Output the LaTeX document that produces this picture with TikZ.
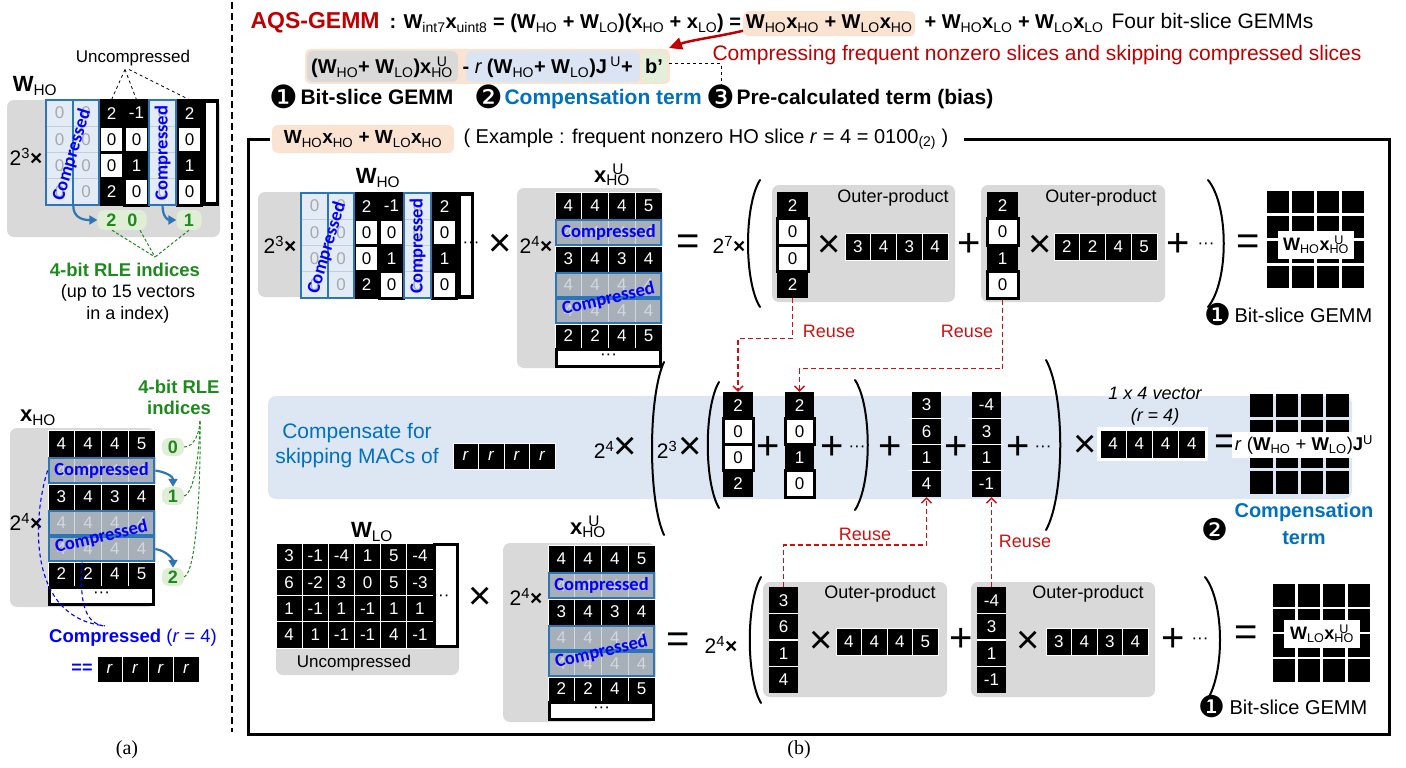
\documentclass[tikz,border=0pt]{standalone}
\usepackage{fontspec}
\setmainfont{Liberation Sans}
\newfontfamily\carl{Carlito}
\newfontfamily\dvs{DejaVu Sans}
\newfontfamily\tms{Liberation Serif}
\usetikzlibrary{arrows.meta}

\definecolor{boxgray}{HTML}{D9D9D9}
\definecolor{peach}{HTML}{FBE3D2}
\definecolor{bandblue}{HTML}{DDE7F3}
\definecolor{termblue}{HTML}{DAE4F2}
\definecolor{pillgreen}{HTML}{E0EED6}
\definecolor{rlegreen}{HTML}{1E8A1E}
\definecolor{cmpblue}{HTML}{2E75B6}
\definecolor{cmpgray}{HTML}{A7AFB9}
\definecolor{cmptxt}{HTML}{D3D8DE}
\definecolor{cmplight}{HTML}{E2EBF6}
\definecolor{cmpline}{HTML}{C5CDD6}
\definecolor{zerogray}{HTML}{A9A9A9}
\definecolor{darkred}{HTML}{C00000}
\definecolor{compblue}{HTML}{0070C0}
\definecolor{reusered}{HTML}{D01010}
\definecolor{mint}{HTML}{E2EFD9}

\newcommand{\fsz}[1]{\fontsize{#1}{#1}\selectfont}
% superscript stacked over a subscript
\newcommand{\SupSub}[2]{\setbox0=\hbox{\textsubscript{#2}}\setbox2=\hbox{\textsuperscript{#1}}\rlap{\hbox to \wd0{\hss\box2\hss}}\box0}
\newcommand{\bW}[1]{\textbf{W}\textsubscript{\mdseries #1}}
\newcommand{\bx}[1]{\textbf{x}\textsubscript{\mdseries #1}}
\newcommand{\bxU}[1]{\textbf{x}\SupSub{\mdseries U}{\mdseries #1}}

% column / row of cells: name, x, y, cell width, cell height, list of style/text
\newcommand{\vcol}[6]{\foreach \st/\tx [count=\i] in {#6}{\node[\st, minimum width=#4, minimum height=#5] (#1-\i) at (#2,{#3+(\i-0.5)*#5}) {\tx};}}
\newcommand{\hrow}[6]{\foreach \st/\tx [count=\i] in {#6}{\node[\st, minimum width=#4, minimum height=#5] (#1-\i) at ({#2+(\i-0.5)*#4},#3) {\tx};}}

% 4x4 result grid: x, y, width, height
\newcommand{\resmat}[4]{\foreach \r in {0,1,2,3}{\foreach \c in {0,1,2,3}{\fill ({#1+\c*#3/4+1.3},{#2+\r*#4/4+1.3}) rectangle ++({#3/4-2.6},{#4/4-2.6});}}}

% big parentheses: x of ends, y top, y bottom, bulge
\newcommand{\parL}[4]{\draw[paren] (#1,#2) .. controls ({#1-#4},{#2+0.2*(#3-#2)}) and ({#1-#4},{#2+0.8*(#3-#2)}) .. (#1,#3);}
\newcommand{\parR}[4]{\draw[paren] (#1,#2) .. controls ({#1+#4},{#2+0.2*(#3-#2)}) and ({#1+#4},{#2+0.8*(#3-#2)}) .. (#1,#3);}

% HO weight slice with compressed columns
\newcommand{\WHOmat}[3]{%
\begin{scope}[shift={(#2,#3)}]
 \fill[black] (53,0) rectangle (172,105);
 \vcol{#1a}{13.5}{0}{26}{26.25}{cL/0,cL/0,cL/0,cL/0}
 \vcol{#1b}{40}{0}{25}{26.25}{cL/0,cL/0,cL/0,cL/0}
 \vcol{#1c}{65.5}{0}{24}{26.25}{cB/2,cW/0,cW/0,cB/2}
 \vcol{#1d}{90.5}{0}{24}{26.25}{cB/-1,cW/0,cB/1,cW/0}
 \vcol{#1e}{116.5}{0}{26}{26.25}{cL/0,cL/0,cL/0,cL/0}
 \vcol{#1f}{143.5}{0}{24}{26.25}{cB/2,cW/0,cB/1,cW/0}
 \node[cW, minimum width=13, minimum height=102] (#1g) at (164.5,52.5) {};
 \draw[line width=2pt] (53,0) rectangle (172,105);
 \draw[cmpbox] (0,0) rectangle (27,105);
 \draw[cmpbox] (27,0) rectangle (53,105);
 \draw[cmpbox] (103,0) rectangle (130,105);
 \node[cmplbl, rotate=73] (#1t1) at (26,55) {Compressed};
 \node[cmplbl, rotate=90] (#1t2) at (116.5,53) {Compressed};
\end{scope}}

% HO activation slice with compressed rows
\newcommand{\XHOmat}[3]{%
\begin{scope}[shift={(#2,#3)}]
 \hrow{#1a}{0}{13.5}{26.75}{27}{cBs/4,cBs/4,cBs/4,cBs/5}
 \hrow{#1b}{0}{40.5}{26.75}{27}{cG/4,cG/4,cG/4,cG/4}
 \hrow{#1c}{0}{67}{26.75}{26}{cBs/3,cBs/4,cBs/3,cBs/4}
 \hrow{#1d}{0}{93}{26.75}{26}{cG/4,cG/4,cG/4,cG/4}
 \hrow{#1e}{0}{119}{26.75}{26}{cG/4,cG/4,cG/4,cG/4}
 \hrow{#1f}{0}{144}{26.75}{24}{cBs/2,cBs/2,cBs/4,cBs/5}
 \node[cW, minimum width=104, minimum height=17] (#1g) at (53.5,166) {\raisebox{3pt}{···}};
 \draw[cmpbox] (1,28) rectangle (106,53);
 \draw[cmpbox] (1,81) rectangle (106,105);
 \draw[cmpbox] (1,107) rectangle (106,131);
 \node[cmplbl] (#1t1) at (53.5,40.5) {Compressed};
 \node[cmplbl, rotate=13] (#1t2) at (53.5,107) {Compressed};
\end{scope}}

\begin{document}
\begin{tikzpicture}[x=1pt,y=-1pt,
  cB/.style={rectangle, fill=black, text=white, inner sep=0pt, font=\fsz{17}},
  cBs/.style={cB, draw=white, line width=0.8pt},
  cW/.style={rectangle, fill=white, draw=black, line width=3pt, text=black, inner sep=0pt, font=\fsz{17}},
  cG/.style={rectangle, fill=cmpgray, draw=cmptxt, line width=0.8pt, text=cmptxt, inner sep=0pt, font=\fsz{17}},
  cL/.style={rectangle, fill=cmplight, draw=cmpline, line width=0.6pt, text=zerogray, inner sep=0pt, font=\fsz{17}},
  cmpbox/.style={draw=cmpblue, line width=2.2pt},
  cmplbl/.style={text=blue, font=\carl\bfseries\fsz{18.5}, inner sep=0pt},
  graybox/.style={fill=boxgray, rounded corners=7pt},
  sym/.style={inner sep=0pt, font=\fsz{40}},
  paren/.style={line width=2pt, line cap=round},
  reuse/.style={draw=reusered, line width=1.4pt, dash pattern=on 5pt off 3pt, -{Straight Barb[length=5pt,width=10pt]}},
  reuselbl/.style={text=reusered, font=\fsz{18}},
  pill/.style={fill=pillgreen, rounded corners=7pt, text=rlegreen, font=\bfseries\fsz{18}, inner sep=0pt},
  rledash/.style={draw=rlegreen, line width=1pt, dash pattern=on 3pt off 2pt},
  rlelbl/.style={text=rlegreen, font=\bfseries\fsz{18.5}},
  bluearrow/.style={draw=cmpblue, line width=2.2pt, -{Triangle[length=8pt,width=9pt]}},
  blued/.style={draw=blue, line width=1.1pt, dash pattern=on 4pt off 3pt},
  opl/.style={font=\fsz{18}},
  pw/.style={font=\fsz{21}},
  circnum/.style={font=\dvs\fsz{32}, inner sep=0pt},
]
\useasboundingbox (0,0) rectangle (1406,768);

% ================= panel (a) =================
\draw[line width=1.8pt, dash pattern=on 7pt off 4pt] (232,2) -- (232,732);

\node[font=\fsz{17}] (uncA) at (133,58) {Uncompressed};
\node[font=\fsz{22}] (whoA) at (35,86) {\bW{HO}};
\fill[graybox] (7,100) rectangle (220,237);
\node[pw] (p3A) at (26,157) {2\textsuperscript{3}\textbf{×}};
\WHOmat{wa}{46}{100}
\draw[dashed, line width=0.8pt] ([xshift=-8pt]uncA.south) -- (wac-1.north);
\draw[dashed, line width=0.8pt] ([xshift=-8pt]uncA.south) -- (wad-1.north);
\draw[dashed, line width=0.8pt] ([xshift=-4pt]uncA.south) -- (waf-1.north);

\node[pill, minimum width=49, minimum height=20] (pillA) at (122,220) {2\hspace{11pt}0};
\node[pill, minimum width=25, minimum height=20] (pillB) at (189,220) {1};
\draw[bluearrow] (wab-4.south west) .. controls +(0,14) and +(-12,0) .. (pillA.west);
\draw[bluearrow] (wae-4.south) .. controls +(0,12) and +(-8,0) .. (pillB.west);

\node[rlelbl] (rleA) at (125,270) {4-bit RLE indices};
\coordinate (rleAtop) at (155,257);
\draw[rledash] ([xshift=-10pt]pillA.south) -- (rleAtop);
\draw[rledash] ([xshift=18pt]pillA.south) -- (rleAtop);
\draw[rledash] (pillB.south) -- (rleAtop);
\node[font=\fsz{18}] (uptoA) at (128,293) {(up to 15 vectors};
\node[font=\fsz{18}] (uptoB) at (128,315) {in a index)};

\node[rlelbl] (rleB1) at (179,387) {4-bit RLE};
\node[rlelbl] (rleB2) at (179,408) {indices};
\coordinate (rleBfoot) at (200,420);
\node[font=\fsz{22}] (xhoA) at (38,418) {\bx{HO}};
\fill[graybox] (10,428) rectangle (155,607);
\node[pw] (p4A) at (26,522) {2\textsuperscript{4}\textbf{×}};
\XHOmat{xa}{48}{430}
\node[pill, minimum width=22, minimum height=18] (q0) at (173,447) {0};
\node[pill, minimum width=22, minimum height=18] (q1) at (173,496) {1};
\node[pill, minimum width=22, minimum height=18] (q2) at (173,577) {2};
\draw[bluearrow] (xab-4.east) .. controls +(12,2) and +(0,-10) .. (q1.north);
\draw[bluearrow] (xae-4.east) .. controls +(12,2) and +(0,-8) .. (q2.north);
\draw[rledash] (q0.east) .. controls +(10,0) and +(0,12) .. (rleBfoot);
\draw[rledash] (q1.east) .. controls +(12,-4) and +(0,20) .. (rleBfoot);
\draw[rledash] (q2.east) .. controls +(14,-6) and +(1,40) .. (rleBfoot);

\node[text=blue, font=\fsz{18.5}] (cmpA) at (133,638) {\textbf{Compressed} (\textit{r} = 4)};
\draw[blued] (xab-1.west) .. controls (32,520) and (28,618) .. ([xshift=-28pt]cmpA.north);
\draw[blued] ([xshift=-6pt]xae-2.south) .. controls (80,595) and (82,622) .. ([xshift=-30pt]cmpA.north);
\node[text=blue, font=\bfseries\fsz{18}] (eqeq) at (82,669) {==};
\hrow{rA}{97}{669}{25.5}{26}{cBs/\textit{r},cBs/\textit{r},cBs/\textit{r},cBs/\textit{r}}
\node[font=\tms\fsz{20}] (capA) at (127,750) {(a)};

% ================= panel (b): header =================
\node[anchor=base west, text=darkred, font=\bfseries\fsz{23}] (aqs) at (247,29) {AQS-GEMM};
\node[anchor=base west, font=\bfseries\fsz{20}] (eqA) at (386,29) {: \bW{int7}\bx{uint8} = (\bW{HO} + \bW{LO})(\bx{HO} + \bx{LO}) =};
\node[anchor=base west, fill=peach, rounded corners=6pt, inner ysep=4pt, inner xsep=0pt, minimum width=172, font=\bfseries\fsz{20}] (pk) at (743,29) {\bW{HO}\bx{HO} + \bW{LO}\bx{HO}};
\node[anchor=base west, font=\bfseries\fsz{20}] (eqB) at (921,29) {+ \bW{HO}\bx{LO} + \bW{LO}\bx{LO}};
\node[anchor=base east, font=\fsz{21}] (four) at (1317,29) {Four bit-slice GEMMs};

\fill[peach, rounded corners=6pt] (305,49) rectangle (670,84);
\fill[boxgray, rounded corners=6pt] (307,51) rectangle (458,82);
\fill[termblue, rounded corners=6pt] (466,51) rectangle (640,82);
\fill[mint, rounded corners=5pt] (642,52) rectangle (667,82);
\node[anchor=base, font=\bfseries\fsz{20}] (f2a) at (382,74) {(\bW{HO}+ \bW{LO})\bxU{HO}};
\node[anchor=base west, font=\bfseries\fsz{20}] (f2b) at (459,74) {- {\mdseries\itshape r} (\bW{HO}+ \bW{LO})\textbf{J}\,\textsuperscript{\mdseries U}+};
\node[anchor=base, font=\bfseries\fsz{20}] (f2c) at (654,74) {b'};

\node[anchor=base west, text=darkred, font=\fsz{21}] (cmpr) at (709,60) {Compressing frequent nonzero slices and skipping compressed slices};
\coordinate (cmptip) at (669,48);
\draw[darkred, line width=2.5pt, -{Triangle[length=13pt,width=12pt]}] ([yshift=-7pt]pk.west) .. controls +(-25,6) and +(22,-8) .. (cmptip);

\node[circnum] (c1) at (284,97) {❶};
\node[anchor=base west, font=\bfseries\fsz{21}] (bsg) at (297,104) {Bit-slice GEMM};
\node[circnum] (c2) at (489,97) {❷};
\node[anchor=base west, text=compblue, font=\bfseries\fsz{21}] (cterm) at (501,104) {Compensation term};
\node[circnum] (c3) at (721,97) {❸};
\node[anchor=base west, font=\bfseries\fsz{21}] (pre) at (733,104) {Pre-calculated term (bias)};
\draw[dashed, line width=0.8pt] ([xshift=3pt,yshift=3pt]f2c.east) -| (c3.north);

% ================= panel (b): frame =================
\node[fill=peach, rounded corners=6pt, minimum width=182, minimum height=28, inner sep=0pt, font=\bfseries\fsz{19}] (lbl) at (363,139) {\bW{HO}\bx{HO} + \bW{LO}\bx{HO}};
\node[anchor=west, font=\fsz{20}] (ex) at (460,139) {( Example : frequent nonzero HO slice \textit{r} = 4 = 0100\textsubscript{(2)} )};
\draw[line width=3pt] ([xshift=-2pt]lbl.west) -- (248,139) -- (248,734) -- (1389,734) -- (1389,139) -- ([xshift=12pt]ex.east);

% compensation band
\fill[bandblue, rounded corners=8pt] (268,396) rectangle (1352,499);

% ---- top row: W_HO x x_HO^U
\fill[graybox] (258,192) rectangle (355,297);
\node[font=\fsz{22}] (whoB) at (378,178) {\bW{HO}};
\node[pw] (p3B) at (280,245) {2\textsuperscript{3}\textbf{×}};
\WHOmat{wb}{301}{193}
\node[font=\fsz{17}] (wbdots) at (471,245) {···};
\node[sym] (mulB) at (500,245) {×};
\fill[graybox] (517,188) rectangle (662,368);
\node[pw] (p4B) at (536,245) {2\textsuperscript{4}\textbf{×}};
\node[font=\fsz{22}] (xuB) at (612,175) {\bxU{HO}};
\XHOmat{xb}{555}{192}
\node[sym] (eqB1) at (688,245) {=};
\node[pw] (p7B) at (729,245) {2\textsuperscript{7}\textbf{×}};
\parL{760}{180}{307}{16}
\fill[graybox] (772,185) rectangle (955,302);
\fill[graybox] (981,185) rectangle (1165,302);
\vcol{t1}{792.5}{192}{31}{26.5}{cB/2,cW/0,cW/0,cB/2}
\node[opl] (op1) at (893,198) {Outer-product};
\node[sym] (tx1) at (829,246) {×};
\hrow{t1r}{845}{246.5}{25.75}{27}{cBs/3,cBs/4,cBs/3,cBs/4}
\node[sym] (tp1) at (969,245) {+};
\vcol{t2}{1002.5}{192}{31}{26.5}{cB/2,cW/0,cB/1,cW/0}
\node[opl] (op2) at (1101,198) {Outer-product};
\node[sym] (tx2) at (1040,246) {×};
\hrow{t2r}{1054}{246.5}{25.75}{27}{cBs/2,cBs/2,cBs/4,cBs/5}
\node[sym] (tp2) at (1178,245) {+};
\node[font=\fsz{17}] (td2) at (1206,246) {···};
\parR{1208}{180}{307}{21}
\node[sym] (eqB2) at (1248,245) {=};
\resmat{1266}{190}{99}{99}
\node[fill=white, minimum width=76, minimum height=28, inner sep=0pt, font=\bfseries\fsz{18}] (r1l) at (1316,245) {\bW{HO}\bxU{HO}};
\node[circnum, font=\dvs\fsz{30}] (c1b) at (1218,315) {❶};
\node[anchor=west, font=\fsz{20}] (bs1) at (1231,315) {Bit-slice GEMM};

% ---- middle row: compensation
\node[align=center, text=compblue, font=\fontsize{21}{25}\selectfont] (compL) at (357,446) {Compensate for\\skipping MACs of};
\hrow{rB}{453}{456}{25.5}{26}{cBs/\textit{r},cBs/\textit{r},cBs/\textit{r},cBs/\textit{r}}
\node[pw] (p4M) at (604,450) {2\textsuperscript{4}};
\node[sym] (xM1) at (625,448) {×};
\parL{664}{362}{535}{16}
\node[pw] (p3M) at (667,450) {2\textsuperscript{3}};
\node[sym] (xM2) at (690,448) {×};
\parL{719}{382}{508}{15}
\vcol{m1}{738}{392}{30}{26.25}{cB/2,cW/0,cW/0,cB/2}
\node[sym] (mp1) at (768,448) {+};
\vcol{m2}{799.5}{392}{29}{26.25}{cB/2,cW/0,cB/1,cW/0}
\node[sym] (mp2) at (832,448) {+};
\node[font=\fsz{17}] (md1) at (857,449) {···};
\parR{855}{380}{510}{17}
\node[sym] (mp3) at (890,448) {+};
\vcol{m3}{926.5}{392}{29}{26.25}{cB/3,cB/6,cB/1,cB/4}
\node[sym] (mp4) at (956,448) {+};
\vcol{m4}{986.5}{392}{29}{26.25}{cB/-4,cB/3,cB/1,cB/-1}
\foreach \k in {1,2,3}{
  \draw[white, line width=1.2pt] (909,{392+\k*26.25}) -- (944,{392+\k*26.25});
  \draw[white, line width=1.2pt] (969,{392+\k*26.25}) -- (1004,{392+\k*26.25});}
\node[sym] (mp5) at (1018,448) {+};
\node[font=\fsz{17}] (md2) at (1043,449) {···};
\parR{1046}{360}{530}{19}
\node[sym] (xM3) at (1085,446) {×};
\node[font=\itshape\fsz{18}] (vecl1) at (1155,393) {1 x 4 vector};
\node[font=\itshape\fsz{18}] (vecl2) at (1155,417) {(r = 4)};
\fill[white] (1097,427) rectangle (1208,461);
\hrow{m5}{1100}{444}{26.25}{28}{cBs/4,cBs/4,cBs/4,cBs/4}
\node[sym] (eqM) at (1226,445) {=};
\resmat{1249}{393}{101}{102}
\node[fill=white, inner sep=3pt, font=\fsz{18.5}] (r2l) at (1304,445) {\textit{r} (\bW{HO} + \bW{LO})\textbf{J}\textsuperscript{U}};
\node[circnum, font=\dvs\fsz{30}] (c2b) at (1215,530) {❷};
\node[text=compblue, font=\bfseries\fsz{20}] (cmpt1) at (1304,512) {Compensation};
\node[text=compblue, font=\bfseries\fsz{20}] (cmpt2) at (1304,538) {term};

% ---- bottom row: W_LO x x_HO^U
\node[font=\fsz{22}] (wloL) at (372,532) {\bW{LO}};
\fill[graybox] (276,615) rectangle (459,675);
\begin{scope}[shift={(276,543)}]
 \hrow{wlo1}{0}{13.1}{26.17}{26.25}{cBs/3,cBs/-1,cBs/-4,cBs/1,cBs/5,cBs/-4}
 \hrow{wlo2}{0}{39.4}{26.17}{26.25}{cBs/6,cBs/-2,cBs/3,cBs/0,cBs/5,cBs/-3}
 \hrow{wlo3}{0}{65.6}{26.17}{26.25}{cBs/1,cBs/-1,cBs/1,cBs/-1,cBs/1,cBs/1}
 \hrow{wlo4}{0}{91.9}{26.17}{26.25}{cBs/4,cBs/1,cBs/-1,cBs/-1,cBs/4,cBs/-1}
 \node[cW, minimum width=23, minimum height=102] (wlo5) at (170,52.5) {};
 \node[font=\fsz{17}] (wlodots) at (165,55) {···};
\end{scope}
\node[font=\fsz{17}] (uncB) at (354,663) {Uncompressed};
\node[sym] (mulC) at (480,598) {×};
\fill[graybox] (503,543) rectangle (655,722);
\node[pw] (p4C) at (526,597) {2\textsuperscript{4}\textbf{×}};
\node[font=\fsz{22}] (xuC) at (588,527) {\bxU{HO}};
\XHOmat{xc}{548}{545}
\node[sym] (eqC1) at (678,643) {=};
\node[pw] (p4C2) at (721,645) {2\textsuperscript{4}\textbf{×}};
\parL{761}{577}{703}{15}
\fill[graybox] (763,582) rectangle (947,697);
\fill[graybox] (971,582) rectangle (1155,697);
\vcol{b1}{783.5}{587}{29}{26.5}{cB/3,cB/6,cB/1,cB/4}
\vcol{b2}{991.5}{587}{29}{26.5}{cB/-4,cB/3,cB/1,cB/-1}
\foreach \k in {1,2,3}{
  \draw[white, line width=1.2pt] (769,{587+\k*26.5}) -- (798,{587+\k*26.5});
  \draw[white, line width=1.2pt] (977,{587+\k*26.5}) -- (1006,{587+\k*26.5});}
\node[opl] (op3) at (880,594) {Outer-product};
\node[sym] (bx1) at (821,642) {×};
\hrow{b1r}{836}{641.5}{25.5}{27}{cBs/4,cBs/4,cBs/4,cBs/5}
\node[sym] (bp1) at (961,640) {+};
\node[opl] (op4) at (1088,594) {Outer-product};
\node[sym] (bx2) at (1028,642) {×};
\hrow{b2r}{1046}{641.5}{25.5}{27}{cBs/3,cBs/4,cBs/3,cBs/4}
\node[sym] (bp2) at (1173,640) {+};
\node[font=\fsz{17}] (bd2) at (1200,641) {···};
\parR{1205}{577}{703}{20}
\node[sym] (eqC2) at (1246,636) {=};
\resmat{1272}{583}{99}{100}
\node[fill=white, minimum width=76, minimum height=28, inner sep=0pt, font=\bfseries\fsz{18}] (r3l) at (1322,634) {\bW{LO}\bxU{HO}};
\node[circnum, font=\dvs\fsz{30}] (c1c) at (1212,707) {❶};
\node[anchor=west, font=\fsz{20}] (bs3) at (1226,707) {Bit-slice GEMM};

% ---- operand reuse
\draw[reuse] (t1-4.south) -- ++(0,40) -| (m1-1.north);
\draw[reuse] (t2-4.south) -- ++(0,69) -| (m2-1.north);
\draw[reuse] (b1-1.north) -- ++(0,-42) -| (m3-4.south);
\draw[reuse] (b2-1.north) -- (b2-1.north |- m4-4.south);
\node[reuselbl] (ru1) at (829,331) {Reuse};
\node[reuselbl] (ru2) at (967,331) {Reuse};
\node[reuselbl] (ru3) at (865,534) {Reuse};
\node[reuselbl] (ru4) at (1025,541) {Reuse};

\node[font=\tms\fsz{20}] (capB) at (799,750) {(b)};
\end{tikzpicture}
\end{document}
